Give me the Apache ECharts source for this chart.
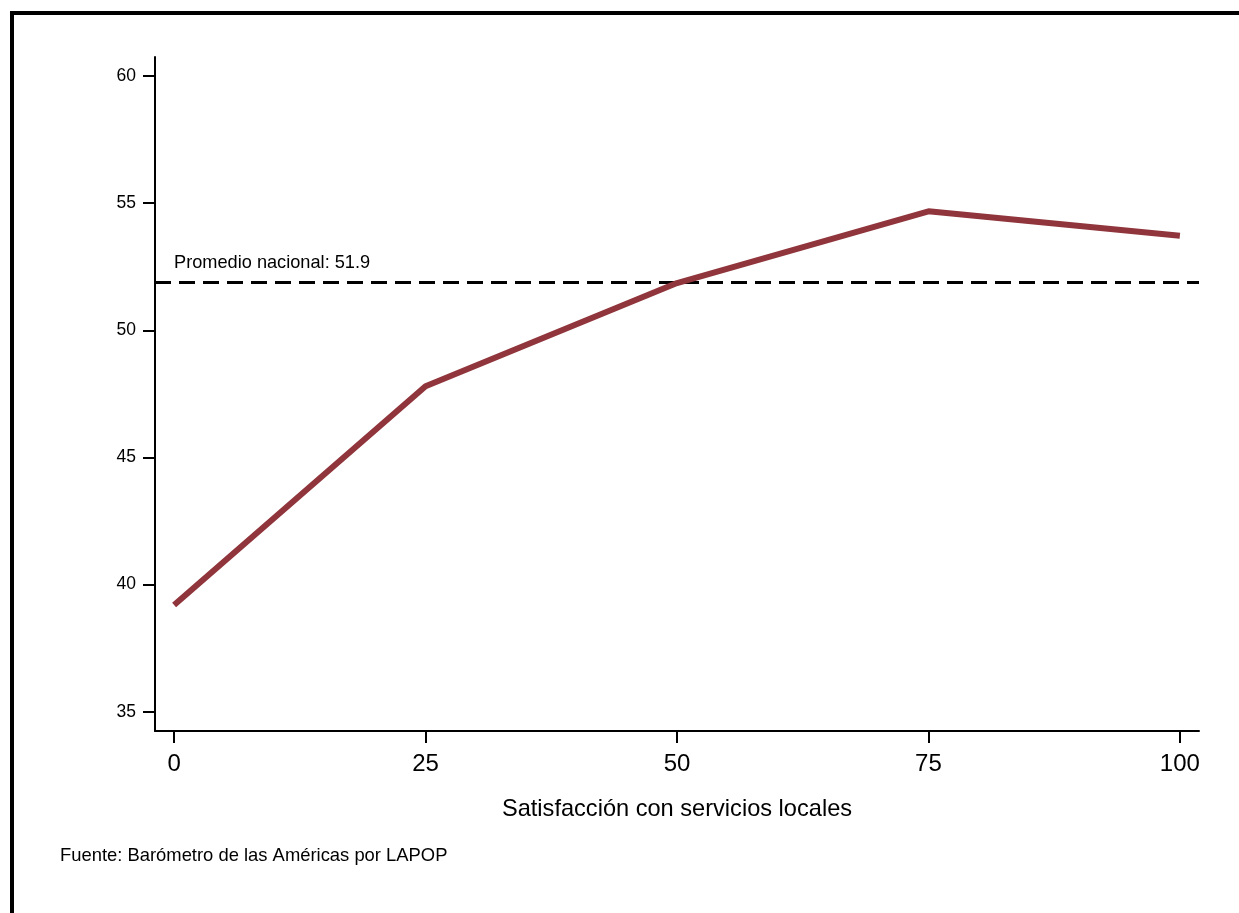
<!DOCTYPE html>
<html>
<head>
<meta charset="utf-8">
<script src="https://cdn.jsdelivr.net/npm/echarts@6/dist/echarts.min.js"></script>
<style>html,body{margin:0;padding:0;background:#fff}#c{width:1239px;height:913px}</style>
</head>
<body>
<div id="c"></div>
<script>
const xValues = [0, 25, 50, 75, 100];
const yValues = [39.2, 47.8, 51.86, 54.68, 53.72];
const xTicks = [0, 25, 50, 75, 100];
const yTicks = [35, 40, 45, 50, 55, 60];
const nationalMean = 51.9;
const meanLabel = 'Promedio nacional: 51.9';
const xTitle = 'Satisfacción con servicios locales';
const source = 'Fuente: Barómetro de las Américas por LAPOP';

const font = '"Liberation Sans", Arial, Helvetica, sans-serif';
const chart = echarts.init(document.getElementById('c'), null, {renderer: 'canvas'});
chart.setOption({
  animation: false,
  backgroundColor: '#fff',
  grid: {left: 155, top: 57, right: 40, bottom: 182, containLabel: false},
  xAxis: {
    type: 'value', min: -1.9, max: 101.9,
    name: xTitle, nameLocation: 'middle', nameGap: 66,
    nameTextStyle: {fontFamily: font, fontSize: 23.6, color: '#000'},
    axisLine: {show: true, onZero: false, lineStyle: {color: '#000', width: 2}},
    axisTick: {show: true, length: 12, lineStyle: {color: '#000', width: 2}, customValues: xTicks},
    axisLabel: {fontFamily: font, fontSize: 24, color: '#000', margin: 21, customValues: xTicks},
    splitLine: {show: false}
  },
  yAxis: {
    type: 'value', min: 34.24, max: 60.75,
    axisLine: {show: true, onZero: false, lineStyle: {color: '#000', width: 2}},
    axisTick: {show: true, length: 12, lineStyle: {color: '#000', width: 2}, customValues: yTicks},
    axisLabel: {fontFamily: font, fontSize: 17.5, color: '#000', margin: 19, customValues: yTicks},
    splitLine: {show: false}
  },
  graphic: [
    {type: 'rect', shape: {x: 12, y: 13, width: 1400, height: 1100}, style: {fill: 'none', stroke: '#000', lineWidth: 4}, silent: true},
    {type: 'text', left: 60, top: 847, style: {text: source, fontFamily: font, fontSize: 18.4, fill: '#000'}}
  ],
  series: [{
    type: 'line',
    data: xValues.map((x, i) => [x, yValues[i]]),
    symbol: 'none',
    lineStyle: {color: '#90353B', width: 6},
    z: 3,
    markLine: {
      silent: true, symbol: 'none',
      data: [{yAxis: nationalMean}],
      lineStyle: {color: '#000', width: 3, type: [16, 8]},
      label: {show: true, position: 'insideStartTop', formatter: meanLabel, fontFamily: font, fontSize: 18.2, color: '#000', distance: [19, 10]},
      z: 2
    }
  }]
});
</script>
</body>
</html>
